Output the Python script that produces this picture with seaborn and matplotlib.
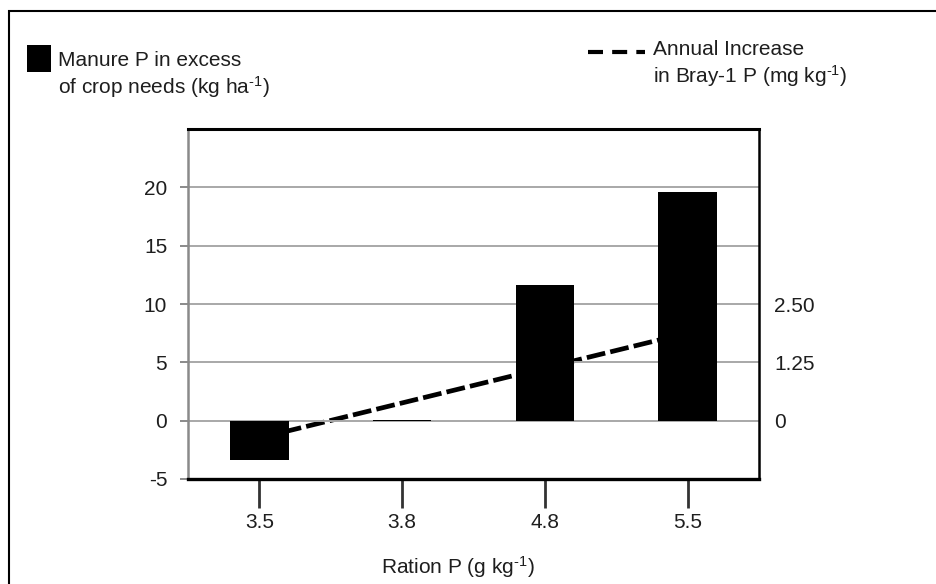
import numpy as np
import pandas as pd
import matplotlib
matplotlib.use("Agg")
import matplotlib.pyplot as plt
from matplotlib.patches import Rectangle
from matplotlib.lines import Line2D
import seaborn as sns

# --- data ---
ration_p = ["3.5", "3.8", "4.8", "5.5"]
manure_excess = [-3.4, 0.08, 11.65, 19.6]      # kg/ha, left axis
bray_increase = [-0.37, 0.38, 1.13, 1.88]      # mg/kg, right axis

left_ticks = [-5, 0, 5, 10, 15, 20]
right_ticks = [0, 1.25, 2.5]
right_labels = ["0", "1.25", "2.50"]

df = pd.DataFrame({"ration": ration_p, "manure": manure_excess, "bray": bray_increase})

# --- style ---
sns.set_theme(style="white")
plt.rcParams["font.family"] = ["Liberation Sans", "DejaVu Sans"]
plt.rcParams["mathtext.default"] = "regular"
plt.rcParams["axes.unicode_minus"] = False
txt = "#1e1e1e"
fs = 15
sup = "$^{\u20101}$"   # superscript with a plain hyphen

W, H = 937, 584
fig = plt.figure(figsize=(W / 100, H / 100), dpi=100)
ax = fig.add_axes([188 / W, 1 - 479 / H, (759 - 188) / W, (479 - 129) / H])
ax2 = ax.twinx()

# bars sit above the dashed line
ax.set_zorder(2)
ax2.set_zorder(1)
ax.patch.set_visible(False)

sns.barplot(data=df, x="ration", y="manure", color="black", saturation=1,
            width=0.41, linewidth=0, ax=ax)
sns.lineplot(x=np.arange(len(ration_p)), y=df["bray"], ax=ax2, color="black",
             lw=3.4, linestyle=(0, (4.0, 1.1)))

ax.set_xlim(-0.5, 3.5)
ax.set_ylim(-5, 25)
ax2.set_ylim(-1.25, 6.25)

ax.set_yticks(left_ticks)
ax2.set_yticks(right_ticks, right_labels)

ax.yaxis.grid(True, color="#a8a8a8", lw=1.4)
ax.set_axisbelow(True)

ax.tick_params(axis="y", length=6, width=1.4, color="#8a8a8a", pad=9,
               labelsize=fs, labelcolor=txt, left=True)
ax.tick_params(axis="x", length=21, width=2, color="#333333", pad=3.5,
               labelsize=fs, labelcolor=txt, bottom=True)
ax2.tick_params(axis="y", length=0, pad=11, labelsize=fs, labelcolor=txt)

for s in ax2.spines.values():
    s.set_visible(False)
ax.spines["left"].set_color("#8a8a8a")
ax.spines["left"].set_linewidth(1.8)
ax.spines["top"].set_color("black")
ax.spines["top"].set_linewidth(2.2)
ax.spines["bottom"].set_color("black")
ax.spines["bottom"].set_linewidth(2.4)
ax.spines["right"].set_color("black")
ax.spines["right"].set_linewidth(1.8)

ax.set_ylabel("")
ax2.set_ylabel("")
ax.set_xlabel("Ration P (g kg" + sup + ")", fontsize=fs, color=txt)
ax.xaxis.set_label_coords((458 - 188) / 571, -(554 - 479) / 350)

# outer frame
fig.add_artist(Rectangle((9 / W, -0.1), 1.5, 1 - 11 / H + 0.1,
                         transform=fig.transFigure, fill=False, lw=1.5, ec="black"))

# legend, left
fig.add_artist(Rectangle((27 / W, 1 - 72 / H), 24 / W, 27 / H,
                         transform=fig.transFigure, fc="black", ec="none"))
fig.text(58 / W, 1 - 51 / H, "Manure P in excess\nof crop needs (kg ha" + sup + ")",
         ha="left", va="top", fontsize=fs, color=txt, linespacing=1.2)

# legend, right
fig.add_artist(Line2D([588 / W, 645 / W], [1 - 52 / H, 1 - 52 / H],
                      transform=fig.transFigure, color="black", lw=3,
                      dashes=(3.6, 2.2)))
fig.text(653 / W, 1 - 40 / H, "Annual Increase\nin Bray-1 P (mg kg" + sup + ")",
         ha="left", va="top", fontsize=fs, color=txt, linespacing=1.2)

fig.savefig("out.png", dpi=100, facecolor="white")
